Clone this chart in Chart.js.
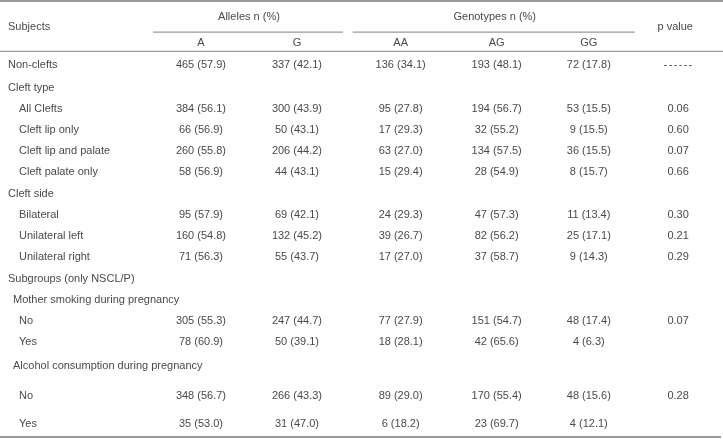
<!DOCTYPE html>
<html>
<head>
<meta charset="utf-8">
<script src="https://cdn.jsdelivr.net/npm/chart.js@4/dist/chart.umd.min.js"></script>
<style>
  html, body { margin: 0; padding: 0; background: #fff; }
  #wrap { width: 723px; height: 439px; }
</style>
</head>
<body>
<div id="wrap"><canvas id="tbl" width="723" height="439"></canvas></div>
<script>
// table content
const columns = ['Subjects', 'A', 'G', 'AA', 'AG', 'GG', 'p value'];
const groups = [
  { label: 'Alleles n (%)', from: 'A', to: 'G' },
  { label: 'Genotypes n (%)', from: 'AA', to: 'GG' }
];

const subjects = [
  'Non-clefts', 'Cleft type', 'All Clefts', 'Cleft lip only', 'Cleft lip and palate',
  'Cleft palate only', 'Cleft side', 'Bilateral', 'Unilateral left', 'Unilateral right',
  'Subgroups (only NSCL/P)', 'Mother smoking during pregnancy', 'No', 'Yes',
  'Alcohol consumption during pregnancy', 'No', 'Yes'
];

const alleleA_n   = [465, null, 384, 66, 260, 58, null, 95, 160, 71, null, null, 305, 78, null, 348, 35];
const alleleA_pct = [57.9, null, 56.1, 56.9, 55.8, 56.9, null, 57.9, 54.8, 56.3, null, null, 55.3, 60.9, null, 56.7, 53.0];
const alleleG_n   = [337, null, 300, 50, 206, 44, null, 69, 132, 55, null, null, 247, 50, null, 266, 31];
const alleleG_pct = [42.1, null, 43.9, 43.1, 44.2, 43.1, null, 42.1, 45.2, 43.7, null, null, 44.7, 39.1, null, 43.3, 47.0];
const genoAA_n    = [136, null, 95, 17, 63, 15, null, 24, 39, 17, null, null, 77, 18, null, 89, 6];
const genoAA_pct  = [34.1, null, 27.8, 29.3, 27.0, 29.4, null, 29.3, 26.7, 27.0, null, null, 27.9, 28.1, null, 29.0, 18.2];
const genoAG_n    = [193, null, 194, 32, 134, 28, null, 47, 82, 37, null, null, 151, 42, null, 170, 23];
const genoAG_pct  = [48.1, null, 56.7, 55.2, 57.5, 54.9, null, 57.3, 56.2, 58.7, null, null, 54.7, 65.6, null, 55.4, 69.7];
const genoGG_n    = [72, null, 53, 9, 36, 8, null, 11, 25, 9, null, null, 48, 4, null, 48, 4];
const genoGG_pct  = [17.8, null, 15.5, 15.5, 15.5, 15.7, null, 13.4, 17.1, 14.3, null, null, 17.4, 6.3, null, 15.6, 12.1];
const pValues     = ['------', null, 0.06, 0.60, 0.07, 0.66, null, 0.30, 0.21, 0.29, null, null, 0.07, null, null, 0.28, null];

// layout (column / row positions in scale units, indents in px)
const colPos = { 'Subjects': 0, 'A': 2.01, 'G': 3.01, 'AA': 4.09, 'AG': 5.09, 'GG': 6.05, 'p value': 6.98 };
const rowGap = [0, 1.1, 1, 1, 1, 1, 1.05, 1, 1, 1, 1.05, 1, 1, 1, 1.15, 1.4, 1.33];
const indent = [0, 0, 11, 11, 11, 11, 0, 11, 11, 11, 0, 5, 11, 11, 5, 11, 11];

const rowPos = [];
rowGap.reduce((acc, g, i) => (rowPos[i] = acc + g), 0);

const cell = (n, pct) => n == null ? '' : `${n} (${pct.toFixed(1)})`;
const cellCols = [
  [alleleA_n, alleleA_pct], [alleleG_n, alleleG_pct],
  [genoAA_n, genoAA_pct], [genoAG_n, genoAG_pct], [genoGG_n, genoGG_pct]
];

const FONT = '11px "Liberation Sans", Arial, sans-serif';
const TEXT = '#4a4a4a';
const RULE = '#9a9a9a';

const tablePlugin = {
  id: 'tablePlugin',
  afterDraw(chart) {
    const { ctx } = chart;
    const x = chart.scales.x, y = chart.scales.y;
    const px = v => x.getPixelForValue(v);
    const py = v => y.getPixelForValue(v);

    ctx.save();
    // rules
    const hline = (v, x0, x1, w) => {
      ctx.strokeStyle = RULE;
      ctx.lineWidth = w;
      ctx.beginPath();
      ctx.moveTo(x0, py(v));
      ctx.lineTo(x1, py(v));
      ctx.stroke();
    };
    hline(-3.05, 0, 723, 2);
    hline(-0.645, 0, 723, 1.3);
    hline(17.71, 0, 721, 2);
    groups.forEach(g => {
      const a = colPos[g.from] - 0.5;
      const b = colPos[g.to] + 0.48;
      hline(-1.57, px(a), px(b), 1.3);
    });

    ctx.font = FONT;
    ctx.fillStyle = TEXT;
    ctx.textBaseline = 'middle';

    // header
    ctx.textAlign = 'left';
    ctx.fillText(columns[0], px(colPos['Subjects']), py(-1.81));
    ctx.textAlign = 'center';
    ctx.fillText(columns[6], px(colPos['p value'] - 0.03), py(-1.81));
    groups.forEach(g => {
      const mid = (colPos[g.from] + colPos[g.to]) / 2;
      ctx.fillText(g.label, px(mid), py(-2.29));
    });
    columns.slice(1, 6).forEach(c => ctx.fillText(c, px(colPos[c]), py(-1.05)));

    // body
    subjects.forEach((s, i) => {
      const yy = py(rowPos[i]);
      ctx.textAlign = 'left';
      ctx.fillText(s, px(colPos['Subjects']) + indent[i], yy);
      ctx.textAlign = 'center';
      cellCols.forEach(([n, p], j) => {
        const t = cell(n[i], p[i]);
        if (t) ctx.fillText(t, px(colPos[columns[j + 1]]), yy);
      });
      const pv = pValues[i];
      if (pv != null) {
        if (typeof pv === 'number') {
          ctx.fillText(pv.toFixed(2), px(colPos['p value']), yy);
        } else {
          ctx.letterSpacing = '1.3px';
          ctx.fillText(pv, px(colPos['p value']) + 0.6, yy);
          ctx.letterSpacing = '0px';
        }
      }
    });
    ctx.restore();
  }
};

new Chart(document.getElementById('tbl'), {
  type: 'scatter',
  data: { datasets: [] },
  options: {
    responsive: false,
    animation: false,
    layout: { padding: 0 },
    plugins: { legend: { display: false }, tooltip: { enabled: false } },
    scales: {
      x: { type: 'linear', display: false, min: -8 / 96, max: 715 / 96 },
      y: { type: 'linear', display: false, reverse: true, min: -65 / 21, max: 374 / 21 }
    }
  },
  plugins: [tablePlugin]
});
</script>
</body>
</html>
